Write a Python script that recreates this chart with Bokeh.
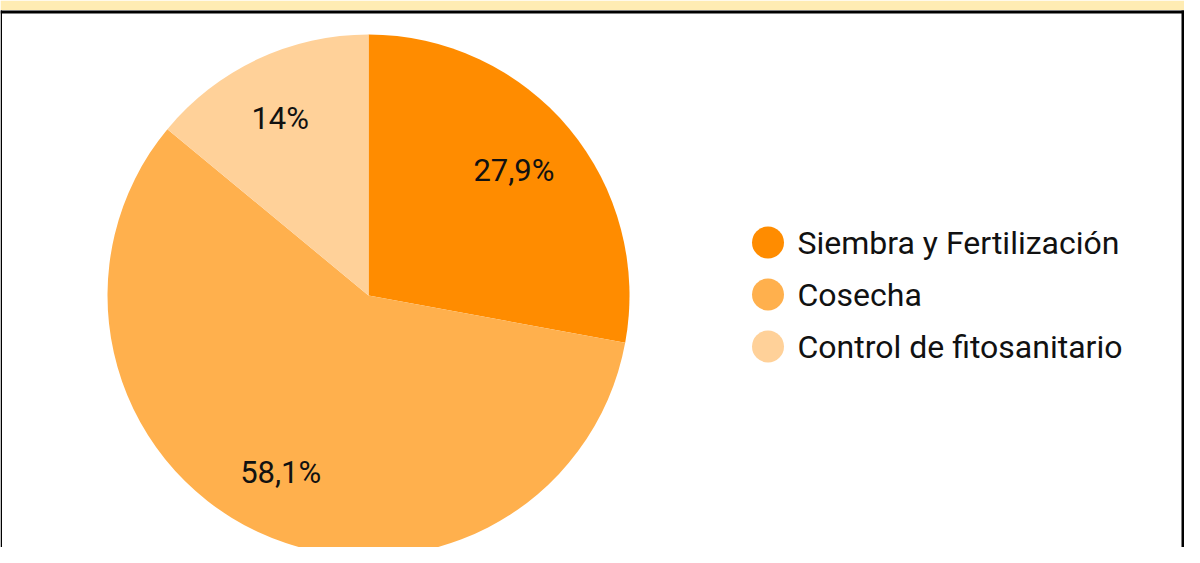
import math
from bokeh.plotting import figure
from bokeh.models import Range1d, ColumnDataSource, BoxAnnotation, Span
from bokeh.core.properties import value
from bokeh.embed import file_html
from bokeh.resources import INLINE

# ---- data ----
categories = ["Siembra y Fertilización", "Cosecha", "Control de fitosanitario"]
values = [27.9, 58.1, 14.0]
colors = ["#FF8C00", "#FFB04D", "#FFD199"]

# ---- layout (canvas pixel space, y measured upward) ----
W, H = 1184, 547
def Y(py):
    return H - py

cx, cy, r = 368, Y(295), 261
label_frac = 0.75

total = sum(values)
start, end, lx, ly, labels = [], [], [], [], []
cum = 0.0
for v in values:
    a0 = math.pi / 2 - 2 * math.pi * cum / total
    cum += v
    a1 = math.pi / 2 - 2 * math.pi * cum / total
    start.append(a0)
    end.append(a1)
    mid = (a0 + a1) / 2
    lx.append(cx + label_frac * r * math.cos(mid))
    ly.append(cy + label_frac * r * math.sin(mid))
    labels.append(f"{v:g}".replace(".", ",") + "%")

src = ColumnDataSource(dict(start=start, end=end, color=colors, lx=lx, ly=ly, label=labels))

p = figure(width=W, height=H, output_backend="svg", toolbar_location=None,
           x_range=Range1d(0, W), y_range=Range1d(0, H),
           min_border=0, min_border_left=0, min_border_right=0,
           min_border_top=0, min_border_bottom=0)
p.axis.visible = False
p.grid.visible = False
p.outline_line_color = None
p.background_fill_color = "white"
p.border_fill_color = "white"

# top cream band and black frame
p.add_layout(BoxAnnotation(bottom=Y(9.5), top=None, fill_color="#FFECB3", fill_alpha=1, line_color=None))
p.add_layout(Span(location=Y(11.5), dimension="width", line_color="black", line_width=3))
p.add_layout(BoxAnnotation(left=None, right=1.5, top=Y(10), bottom=None, fill_color="black", fill_alpha=1, line_color=None))
p.add_layout(BoxAnnotation(left=W - 3, right=None, top=Y(10), bottom=None, fill_color="black", fill_alpha=1, line_color=None))

p.wedge(x=cx, y=cy, radius=r, start_angle="start", end_angle="end", direction="clock",
        fill_color="color", line_color=None, source=src)

p.text(x="lx", y="ly", text="label", source=src, text_font=value("Roboto"),
       text_font_size="31px", text_align="center", text_baseline="middle", text_color="#111111",
       x_offset=-5)

# legend
leg_x, leg_y0, leg_dy = 767.5, 242, 52
lsrc = ColumnDataSource(dict(
    x=[leg_x] * len(categories),
    y=[Y(leg_y0 + i * leg_dy) for i in range(len(categories))],
    tx=[leg_x + 29.5] * len(categories),
    name=categories, color=colors))
p.scatter(x="x", y="y", size=32, marker="circle", fill_color="color", line_color=None, source=lsrc)
p.text(x="tx", y="y", text="name", source=lsrc, text_font=value("Roboto"),
       text_font_size="32px", text_align="left", text_baseline="middle", text_color="#111111")

open("out.html", "w").write(file_html(p, INLINE))
